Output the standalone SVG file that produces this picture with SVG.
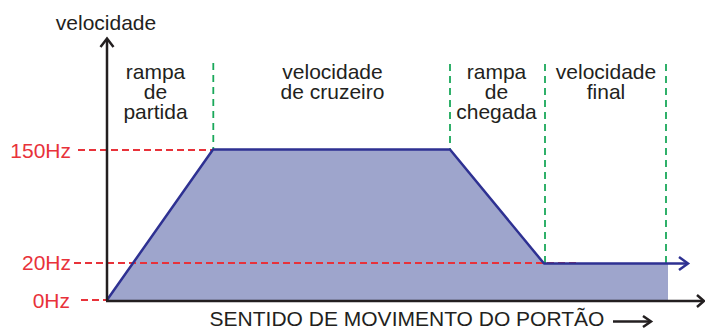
<svg xmlns="http://www.w3.org/2000/svg" width="705" height="329" viewBox="0 0 705 329">
<style>
text{font-family:"Liberation Sans",Arial,sans-serif;font-size:21px;fill:#231f20}
.lbl{text-anchor:middle}
.hz{fill:#e8323a;text-anchor:end}
.red{stroke:#e8323a;stroke-width:1.8;stroke-dasharray:7 4;fill:none}
.grn{stroke:#1aa85a;stroke-width:1.8;stroke-dasharray:7 5;fill:none}
.ax{stroke:#231f20;stroke-width:2.5;fill:none}
.chev{stroke:#231f20;stroke-width:2.5;fill:none;stroke-linejoin:miter}
</style>
<rect width="705" height="329" fill="#fff"/>
<g id="area">
<polygon points="107,300 213,149.5 450,149.5 544,263.5 668,263.5 668,300" fill="#9ea5cc"/>
</g>
<g id="guides">
<line class="red" x1="78" y1="150" x2="213" y2="150"/>
<line class="red" x1="74" y1="263" x2="576" y2="263"/>
<line class="red" x1="81" y1="300" x2="107" y2="300"/>
<line class="grn" x1="213.3" y1="63" x2="213.3" y2="149"/>
<line class="grn" x1="450" y1="64" x2="450" y2="149"/>
<line class="grn" x1="545" y1="64" x2="545" y2="263"/>
<line class="grn" x1="666" y1="64" x2="666" y2="263"/>
</g>
<g id="connectors">
<polyline points="107,300 213,149.5 450,149.5 544,263.5 687,263.5" fill="none" stroke="#2e3192" stroke-width="2.5" stroke-linejoin="round"/>
<polyline points="679,257 688,263.5 679,270" fill="none" stroke="#2e3192" stroke-width="2.5"/>
<line class="ax" x1="107" y1="301" x2="107" y2="39"/>
<polyline class="chev" points="100.5,47 107,38.5 113.5,47"/>
<line class="ax" x1="106" y1="301" x2="703" y2="301"/>
<polyline class="chev" points="697,295 704,301 697,307"/>
<line class="ax" x1="613" y1="321.5" x2="650" y2="321.5"/>
<polyline class="chev" points="643,316 651,321.5 643,327"/>
</g>
<g id="axis-labels">
<text x="106" y="30" class="lbl">velocidade</text>
<text x="407" y="326" class="lbl">SENTIDO DE MOVIMENTO DO PORTÃO</text>
<text x="71" y="158" class="hz">150Hz</text>
<text x="71" y="270" class="hz">20Hz</text>
<text x="70" y="308" class="hz">0Hz</text>
</g>
<g id="phase-partida">
<text class="lbl" x="155.5" y="79">rampa</text>
<text class="lbl" x="155.5" y="99">de</text>
<text class="lbl" x="155.5" y="119">partida</text>
</g>
<g id="phase-cruzeiro">
<text class="lbl" x="332.5" y="79">velocidade</text>
<text class="lbl" x="332.5" y="99">de cruzeiro</text>
</g>
<g id="phase-chegada">
<text class="lbl" x="496.5" y="79">rampa</text>
<text class="lbl" x="496.5" y="99">de</text>
<text class="lbl" x="496.5" y="119">chegada</text>
</g>
<g id="phase-final">
<text class="lbl" x="606" y="79">velocidade</text>
<text class="lbl" x="606" y="99">final</text>
</g>
</svg>
